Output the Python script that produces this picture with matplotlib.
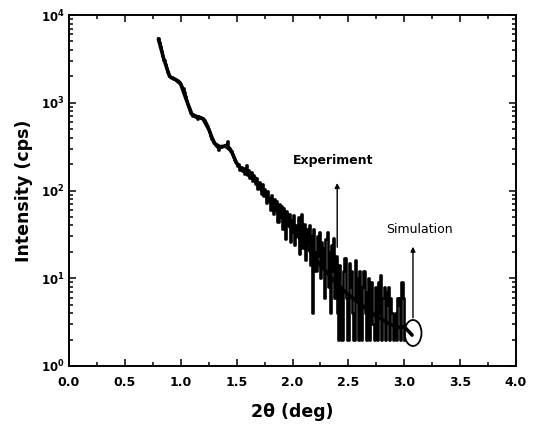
import numpy as np
import matplotlib
matplotlib.use("Agg")
import matplotlib.pyplot as plt
from matplotlib.patches import Ellipse
from matplotlib.ticker import FixedLocator, LogLocator, NullFormatter

# ---- data ----
exp_x_start, exp_x_step = 0.80, 0.01
exp_counts = [
    5400, 4900, 4400, 3900, 3450, 3100, 2800, 2500, 2250, 2100,   # 0.80-0.89
    2000, 1960, 1930, 1900, 1880, 1860, 1840, 1820, 1790, 1720,   # 0.90-0.99
    1640, 1560, 1460, 1330, 1200, 1080, 980, 890, 820, 770,       # 1.00-1.09
    735, 710, 700, 690, 700, 660, 700, 690, 685, 675,             # 1.10-1.19
    660, 635, 600, 570, 540, 500, 460, 420, 390, 365,             # 1.20-1.29
    345, 332, 322, 316, 290, 318, 315, 325, 318, 330,             # 1.30-1.39
    320, 340, 370, 315, 305, 285, 262, 240, 225, 212,             # 1.40-1.49
    205, 190, 200, 172, 185, 168, 182, 155, 176, 196,             # 1.50-1.59
    150, 170, 140, 162, 128, 150, 142, 118, 140, 104,             # 1.60-1.69
    126, 112, 92, 118, 86, 104, 96, 72, 98, 82,                   # 1.70-1.79
    60, 88, 70, 54, 80, 62, 76, 44, 70, 52,                       # 1.80-1.89
    66, 36, 64, 48, 28, 58, 40, 54, 26, 46,                       # 1.90-1.99
    34, 52, 24, 40, 30, 50, 19, 38, 54, 22,                       # 2.00-2.09
    32, 42, 16, 36, 24, 40, 14, 30, 4, 36,                        # 2.10-2.19
    20, 12, 30, 18, 34, 10, 26, 14, 22, 6,                        # 2.20-2.29
    28, 34, 8, 20, 4, 24, 12, 29, 6, 18,                          # 2.30-2.39
    4, 2, 14, 8, 2, 2, 12, 17, 6, 2,                              # 2.40-2.49
    2, 15, 8, 12, 4, 2, 16, 6, 10, 2,                             # 2.50-2.59
    12, 5, 2, 8, 12, 4, 2, 7, 10, 2,                              # 2.60-2.69
    6, 9, 3, 2, 8, 6, 2, 9, 4, 11,                                # 2.70-2.79
    2, 6, 8, 2, 7, 5, 8, 2, 6, 4,                                 # 2.80-2.89
    2, 3, 4, 2, 6, 5, 6, 2, 9, 6,                                 # 2.90-2.99
    2,                                                            # 3.00
]
exp_theta = [round(exp_x_start + i * exp_x_step, 2) for i in range(len(exp_counts))]

sim_theta = [0.80, 0.85, 0.90, 0.95, 1.00, 1.05, 1.10, 1.15, 1.20, 1.25,
             1.30, 1.35, 1.40, 1.45, 1.50, 1.55, 1.60, 1.65, 1.70, 1.75,
             1.80, 1.85, 1.90, 1.95, 2.00, 2.05, 2.10, 2.15, 2.20, 2.25,
             2.30, 2.35, 2.40, 2.45, 2.50, 2.55, 2.60, 2.65, 2.70, 2.75,
             2.80, 2.85, 2.90, 2.95, 3.00, 3.05, 3.07]
sim_counts = [5300, 3100, 2000, 1850, 1630, 1080, 740, 690, 655, 500,
              345, 316, 320, 285, 205, 172, 160, 140, 110, 92,
              75, 62, 50, 42, 36, 30, 25, 21, 17, 14,
              12, 10, 8.5, 7.4, 6.5, 5.8, 5.2, 4.6, 4.1, 3.7,
              3.4, 3.1, 2.9, 2.75, 2.8, 2.4, 2.25]

x_ticks = [0.0, 0.5, 1.0, 1.5, 2.0, 2.5, 3.0, 3.5, 4.0]
x_ticklabels = ["0.0", "0.5", "1.0", "1.5", "2.0", "2.5", "3.0", "3.5", "4.0"]
y_ticks = [1, 10, 100, 1000, 10000]
y_ticklabels = [r"$\mathbf{10^{0}}$", r"$\mathbf{10^{1}}$", r"$\mathbf{10^{2}}$",
                r"$\mathbf{10^{3}}$", r"$\mathbf{10^{4}}$"]

# ---- figure ----
fig = plt.figure(figsize=(5.38, 4.24), dpi=100)
ax = fig.add_axes([69/538, 1-366/424, (516-69)/538, (366-15)/424])

ax.plot(sim_theta, sim_counts, color="black", lw=2.6, solid_capstyle="round")
ax.plot(exp_theta, exp_counts, color="black", lw=1.9, drawstyle="steps-mid")

ax.set_yscale("log")
ax.set_xlim(0, 4)
ax.set_ylim(1, 1e4)

ax.xaxis.set_major_locator(FixedLocator(x_ticks))
ax.set_xticklabels(x_ticklabels, fontsize=9, fontweight="bold")
ax.xaxis.set_minor_locator(FixedLocator([0.25, 0.75, 1.25, 1.75, 2.25, 2.75, 3.25, 3.75]))
ax.yaxis.set_major_locator(FixedLocator(y_ticks))
ax.set_yticklabels(y_ticklabels, fontsize=8.5)
ax.yaxis.set_minor_locator(LogLocator(base=10, subs=np.arange(2, 10), numticks=20))
ax.yaxis.set_minor_formatter(NullFormatter())

ax.tick_params(which="both", direction="in", top=True, right=True, width=1.1)
ax.tick_params(which="major", length=5)
ax.tick_params(which="minor", length=3)
ax.tick_params(axis="x", pad=7)
ax.tick_params(axis="y", pad=3)
for s in ax.spines.values():
    s.set_linewidth(1.4)

ax.set_xlabel("2θ (deg)", fontsize=12.5, fontweight="bold", labelpad=10)
ax.set_ylabel("Intensity (cps)", fontsize=12.5, fontweight="bold", labelpad=6)

# annotations
ax.annotate("", xy=(2.40, 131), xytext=(2.40, 21),
            arrowprops=dict(arrowstyle="-|>", color="black", lw=1.0, mutation_scale=7))
ax.text(2.36, 217, "Experiment", ha="center", va="center", fontsize=9, fontweight="bold")

ax.annotate("", xy=(3.078, 24.6), xytext=(3.078, 3.3),
            arrowprops=dict(arrowstyle="-|>", color="black", lw=1.0, mutation_scale=7))
ax.text(3.14, 36.4, "Simulation", ha="center", va="center", fontsize=9)
ax.add_patch(Ellipse(((413-69)/447, (366-333)/351), 17/447, 26/351,
                     transform=ax.transAxes, fill=False, lw=1.3, color="black"))

fig.savefig("out.png", dpi=100)
